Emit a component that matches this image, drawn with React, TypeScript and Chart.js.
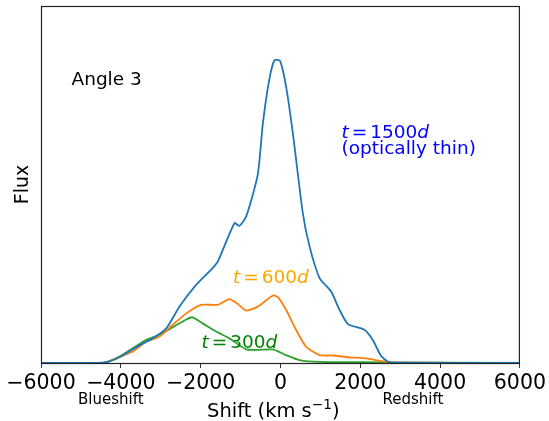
import React, { useEffect, useRef } from 'react';
import { Chart, registerables } from 'chart.js';

Chart.register(...registerables);

const FONT = '"DejaVu Sans", sans-serif';

const xTicks = [-6000, -4000, -2000, 0, 2000, 4000, 6000];

const blueX = [-6000, -4600, -4300, -4000, -3530, -3200, -2860, -2530, -2150, -1700, -1570, -1150, -1030, -860, -570, -440, -280, -150, -10, 140, 310, 560, 730, 980, 1270, 1480, 1690, 2100, 2310, 2520, 2690, 2900, 6000];
const blueY = [0, 0, 0.004, 0.018, 0.05, 0.069, 0.097, 0.158, 0.214, 0.266, 0.284, 0.392, 0.384, 0.41, 0.527, 0.672, 0.794, 0.848, 0.846, 0.775, 0.644, 0.42, 0.326, 0.238, 0.2, 0.149, 0.109, 0.093, 0.065, 0.02, 0.004, 0.001, 0];

const orangeX = [-6000, -4600, -4370, -4000, -3700, -3360, -3030, -2700, -2360, -1990, -1570, -1280, -1100, -860, -570, -190, -70, 140, 390, 640, 980, 1310, 1730, 2150, 2480, 2900, 6000];
const orangeY = [0, 0, 0.002, 0.018, 0.032, 0.06, 0.074, 0.107, 0.139, 0.163, 0.163, 0.179, 0.168, 0.147, 0.158, 0.189, 0.185, 0.149, 0.093, 0.046, 0.022, 0.021, 0.016, 0.013, 0.006, 0.001, 0];

const greenX = [-6000, -4600, -4370, -4000, -3700, -3360, -3030, -2700, -2360, -2200, -1950, -1610, -1280, -860, -570, -190, 140, 480, 980, 2500, 6000];
const greenY = [0, 0, 0.002, 0.02, 0.041, 0.065, 0.079, 0.1, 0.122, 0.128, 0.111, 0.088, 0.069, 0.038, 0.037, 0.038, 0.022, 0.008, 0.003, 0.002, 0];

const toPts = (xs: number[], ys: number[]) => xs.map((x, i) => ({ x, y: ys[i] }));

type Seg = { t: string; it?: boolean; gap?: number; sup?: boolean };

function drawSegs(ctx: CanvasRenderingContext2D, segs: Seg[], x: number, y: number, size: number, color: string) {
  ctx.fillStyle = color;
  ctx.textBaseline = 'alphabetic';
  ctx.textAlign = 'left';
  let cx = x;
  for (const s of segs) {
    if (s.gap) { cx += s.gap; continue; }
    const sz = s.sup ? size * 0.7 : size;
    ctx.font = `${s.it ? 'italic ' : ''}${sz}px ${FONT}`;
    ctx.fillText(s.t, cx, s.sup ? y - size * 0.42 : y);
    cx += ctx.measureText(s.t).width;
  }
}

const mathLabel = (num: string): Seg[] => [
  { t: 't', it: true }, { t: '', gap: 3 }, { t: '=' }, { t: '', gap: 3 }, { t: num }, { t: 'd', it: true },
];

const xTitle: Seg[] = [{ t: 'Shift (km s' }, { t: '\u22121', sup: true }, { t: ')' }];

const annotPlugin = {
  id: 'annot',
  afterDraw(chart: any) {
    const ctx = chart.ctx as CanvasRenderingContext2D;
    const a = chart.chartArea;
    const xs = chart.scales.x;
    ctx.save();
    ctx.strokeStyle = '#222';
    ctx.lineWidth = 1.2;
    ctx.strokeRect(a.left + 0.5, a.top + 0.5, a.right - a.left - 1, a.bottom - a.top);

    ctx.fillStyle = '#000';
    ctx.font = `18.5px ${FONT}`;
    ctx.textAlign = 'left';
    ctx.textBaseline = 'alphabetic';
    ctx.fillText('Angle 3', 71.5, 85);

    drawSegs(ctx, mathLabel('1500'), 341.5, 138, 18.5, '#0000ff');
    ctx.fillStyle = '#0000ff';
    ctx.font = `18.5px ${FONT}`;
    ctx.fillText('(optically thin)', 341.5, 154);
    drawSegs(ctx, mathLabel('600'), 233, 282.5, 18.5, '#ffa500');
    drawSegs(ctx, mathLabel('300'), 201.5, 348, 18.5, '#008000');

    ctx.fillStyle = '#000';
    ctx.font = `15px ${FONT}`;
    ctx.textAlign = 'center';
    ctx.fillText('Blueshift', xs.getPixelForValue(-4250), 404);
    ctx.fillText('Redshift', xs.getPixelForValue(3320), 404);

    drawSegs(ctx, xTitle, 207, 417, 19.5, '#000');
    ctx.restore();
  },
};

export default function App() {
  const ref = useRef<HTMLCanvasElement>(null);
  useEffect(() => {
    document.body.style.margin = '0';
    const ds = (xs: number[], ys: number[], color: string) => ({
      data: toPts(xs, ys), borderColor: color, borderWidth: 1.8, pointRadius: 0, fill: false, tension: 0.2,
      borderJoinStyle: 'round', borderCapStyle: 'round',
    });
    const chart = new Chart(ref.current!, {
      type: 'line',
      data: {
        datasets: [
          ds(blueX, blueY, '#1f77b4'),
          ds(orangeX, orangeY, '#ff7f0e'),
          ds(greenX, greenY, '#2ca02c'),
        ],
      },
      options: {
        responsive: false,
        animation: false,
        devicePixelRatio: 1,
        layout: { padding: { top: 6, right: 28, left: 0, bottom: 0 } },
        plugins: { legend: { display: false }, tooltip: { enabled: false } },
        scales: {
          x: {
            type: 'linear',
            min: -6000,
            max: 6000,
            afterBuildTicks: (s: any) => { s.ticks = xTicks.map((v) => ({ value: v })); },
            afterFit: (s: any) => { s.height = 58; },
            ticks: {
              color: '#000',
              font: { family: FONT, size: 20.5 },
              padding: 3,
              maxRotation: 0,
              autoSkip: false,
              callback: (v: any) => String(v).replace('-', '\u2212'),
            },
            grid: { display: true, drawOnChartArea: false, drawTicks: true, tickLength: 5, color: '#333', lineWidth: 1 },
            border: { display: false },
            title: { display: false },
          },
          y: {
            min: 0,
            max: 1,
            afterFit: (s: any) => { s.width = 41; },
            ticks: { display: false },
            grid: { display: false },
            border: { display: false },
            title: { display: true, text: 'Flux', color: '#000', font: { family: FONT, size: 19 }, padding: { top: 12, bottom: 0 } },
          },
        },
      },
      plugins: [annotPlugin],
    } as any);
    return () => chart.destroy();
  }, []);
  return (
    <div style={{ width: 549, height: 421 }}>
      <canvas ref={ref} width={549} height={421} style={{ display: 'block' }} />
    </div>
  );
}
